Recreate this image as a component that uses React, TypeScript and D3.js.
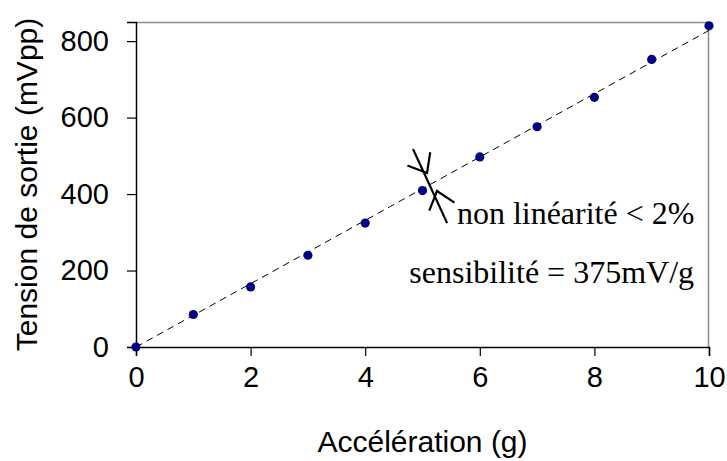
import * as d3 from "d3";
import { useEffect, useRef } from "react";

const accel = [0, 1, 2, 3, 4, 5, 6, 7, 8, 9, 10];
const tension = [0, 85, 157, 240, 324, 409, 497, 576, 653, 752, 840];
const trendX = [0, 10];
const trendY = [0, 828];
const xTicks = [0, 2, 4, 6, 8, 10];
const yTicks = [0, 200, 400, 600, 800];

const App: React.FC = () => {
  const ref = useRef<SVGSVGElement | null>(null);

  useEffect(() => {
    const svg = d3.select(ref.current);
    svg.selectAll("*").remove();

    const margin = { top: 22, right: 18, bottom: 114, left: 136 };
    const width = 727,
      height = 461;
    const innerW = width - margin.left - margin.right;
    const innerH = height - margin.top - margin.bottom;

    const x = d3.scaleLinear().domain([0, 10]).range([0, innerW]);
    const y = d3.scaleLinear().domain([0, 850]).range([innerH, 0]);

    const g = svg
      .append("g")
      .attr("transform", `translate(${margin.left}, ${margin.top})`);

    // cadre gris (haut et droite)
    g.append("path")
      .attr("d", `M0,0.5H${innerW - 0.5}V${innerH}`)
      .attr("fill", "none")
      .attr("stroke", "#8c8c8c")
      .attr("stroke-width", 1.5);

    const sans = "Liberation Sans, Arial, sans-serif";

    const xAxis = g
      .append("g")
      .attr("transform", `translate(0, ${innerH})`)
      .call(d3.axisBottom(x).tickValues(xTicks).tickSize(9).tickPadding(10).tickFormat(d3.format("d")));
    const yAxis = g
      .append("g")
      .call(d3.axisLeft(y).tickValues(yTicks).tickSize(9).tickPadding(18).tickFormat(d3.format("d")));

    [xAxis, yAxis].forEach((a) => {
      a.select(".domain").attr("stroke", "#000").attr("stroke-width", 1.5);
      a.selectAll(".tick line").attr("stroke", "#000").attr("stroke-width", 1.2);
      a.selectAll(".tick text")
        .attr("fill", "#000")
        .style("font-family", sans)
        .style("font-size", "29px");
    });

    // droite de tendance
    const line = d3
      .line<number>()
      .x((_, i) => x(trendX[i]))
      .y((d) => y(d));
    g.append("path")
      .datum(trendY)
      .attr("fill", "none")
      .attr("stroke", "#000")
      .attr("stroke-width", 1)
      .attr("stroke-dasharray", "7,5")
      .attr("d", line);

    g.selectAll("circle")
      .data(accel)
      .join("circle")
      .attr("cx", (d) => x(d))
      .attr("cy", (_, i) => y(tension[i]))
      .attr("r", 4.6)
      .attr("fill", "#000080");

    // trait "non linéarité" avec deux pointes qui se font face
    const stem = { from: [4.834, 518], to: [5.43, 324] };
    const heads = [
      { tip: [5.079, 455], back: stem.from },
      { tip: [5.253, 408], back: stem.to },
    ];
    g.append("path")
      .attr("d", `M${x(stem.from[0])},${y(stem.from[1])}L${x(stem.to[0])},${y(stem.to[1])}`)
      .attr("stroke", "#000")
      .attr("stroke-width", 2.2);
    heads.forEach((h) => {
      const tx = x(h.tip[0]),
        ty = y(h.tip[1]);
      const ang = Math.atan2(y(h.back[1]) - ty, x(h.back[0]) - tx);
      const len = 21,
        spread = 0.68;
      const b1 = [tx + len * Math.cos(ang + spread), ty + len * Math.sin(ang + spread)];
      const b2 = [tx + len * Math.cos(ang - spread), ty + len * Math.sin(ang - spread)];
      g.append("path")
        .attr("d", `M${b1[0]},${b1[1]}L${tx},${ty}L${b2[0]},${b2[1]}`)
        .attr("fill", "none")
        .attr("stroke", "#000")
        .attr("stroke-width", 2.2);
    });

    const serif = "Liberation Serif, Times New Roman, serif";
    g.append("text")
      .attr("x", x(5.6))
      .attr("y", y(323))
      .style("font-family", serif)
      .style("font-size", "32px")
      .text("non linéarité < 2%");
    g.append("text")
      .attr("x", x(4.77))
      .attr("y", y(168))
      .style("font-family", serif)
      .style("font-size", "32px")
      .text("sensibilité = 375mV/g");

    svg.append("text")
      .attr("x", margin.left + innerW / 2)
      .attr("y", 452)
      .attr("text-anchor", "middle")
      .style("font-family", sans)
      .style("font-size", "30px")
      .text("Accélération (g)");
    svg.append("text")
      .attr("transform", `translate(37, ${margin.top + innerH / 2}) rotate(-90)`)
      .attr("text-anchor", "middle")
      .style("font-family", sans)
      .style("font-size", "30px")
      .text("Tension de sortie (mVpp)");
  }, []);

  return (
    <svg
      ref={ref}
      width={727}
      height={461}
      style={{ position: "absolute", left: 0, top: 0, background: "#fff" }}
    ></svg>
  );
};

export default App;
